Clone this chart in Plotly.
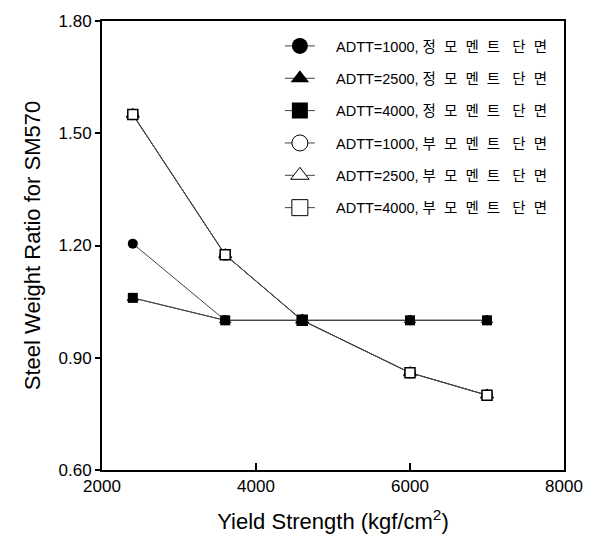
import plotly.graph_objects as go

yield_strength = [2400, 3600, 4600, 6000, 7000]

pos_1000 = [1.205, 1.00, 1.00, 1.00, 1.00]
pos_2500 = [1.06, 1.00, 1.00, 1.00, 1.00]
pos_4000 = [1.06, 1.00, 1.00, 1.00, 1.00]
neg_1000 = [1.55, 1.175, 1.00, 0.86, 0.80]
neg_2500 = [1.55, 1.175, 1.00, 0.86, 0.80]
neg_4000 = [1.55, 1.175, 1.00, 0.86, 0.80]

NB = "\u00a0"
def kor(s):
    return (" " + NB).join(s)

names = [
    "ADTT=1000, " + kor("정모멘트") + " " + NB + NB + kor("단면"),
    "ADTT=2500, " + kor("정모멘트") + " " + NB + NB + kor("단면"),
    "ADTT=4000, " + kor("정모멘트") + " " + NB + NB + kor("단면"),
    "ADTT=1000, " + kor("부모멘트") + " " + NB + NB + kor("단면"),
    "ADTT=2500, " + kor("부모멘트") + " " + NB + NB + kor("단면"),
    "ADTT=4000, " + kor("부모멘트") + " " + NB + NB + kor("단면"),
]
series = [pos_1000, pos_2500, pos_4000, neg_1000, neg_2500, neg_4000]
symbols = ["circle", "triangle-up", "square", "circle-open", "triangle-up-open", "square-open"]
data_sizes = [10, 11, 10, 10, 11, 10]

fig = go.Figure()

# data traces (negative first so positive lines drawn on top)
order = [3, 4, 5, 0, 1, 2]
for i in order:
    filled = "open" not in symbols[i]
    fig.add_trace(go.Scatter(
        x=yield_strength, y=series[i], mode="lines+markers",
        line=dict(color="#444444", width=1),
        marker=dict(symbol=symbols[i].replace("-open", ""), size=data_sizes[i],
                    color="black" if filled else "white",
                    line=dict(color="black", width=0 if filled else 1.5)),
        showlegend=False, hoverinfo="skip",
    ))

# legend entries
for i in range(6):
    filled = "open" not in symbols[i]
    fig.add_trace(go.Scatter(
        x=[None], y=[None], mode="lines+markers",
        name=NB * 4 + names[i],
        legendgroup=str(i),
        line=dict(color="#444444", width=1),
        marker=dict(symbol=symbols[i].replace("-open", ""), size=16,
                    color="black" if filled else "white",
                    line=dict(color="black", width=0 if filled else 1)),
    ))

font_main = "Liberation Sans, Arial, Noto Sans CJK KR, sans-serif"

fig.update_layout(
    width=596, height=544,
    margin=dict(l=102, r=32, t=16, b=74),
    plot_bgcolor="white", paper_bgcolor="white",
    font=dict(family=font_main, color="black"),
    legend=dict(
        x=0.385, y=0.98, xanchor="left", yanchor="top",
        bgcolor="rgba(0,0,0,0)", borderwidth=0,
        font=dict(size=14.5, family="Liberation Sans, Noto Sans CJK KR, sans-serif"),
        traceorder="grouped", tracegroupgap=10.5,
    ),
    xaxis=dict(
        range=[2000, 8000], tickvals=[2000, 4000, 6000, 8000],
        ticks="inside", ticklen=7, tickwidth=2, tickcolor="black",
        showline=True, linecolor="black", linewidth=2, mirror=True,
        showgrid=False, zeroline=False,
        tickfont=dict(size=17),
        title=dict(text="Yield Strength (kgf/cm<sup>2</sup>)", font=dict(size=22), standoff=18),
    ),
    yaxis=dict(
        range=[0.60, 1.80], tickvals=[0.60, 0.90, 1.20, 1.50, 1.80], tickformat=".2f",
        ticks="outside", ticklen=5, tickwidth=1.5, tickcolor="black",
        showline=True, linecolor="black", linewidth=2, mirror=True,
        showgrid=False, zeroline=False,
        tickfont=dict(size=17),
        title=dict(text="Steel Weight Ratio for SM570", font=dict(size=22), standoff=12),
    ),
)

fig.write_html("out.html")
